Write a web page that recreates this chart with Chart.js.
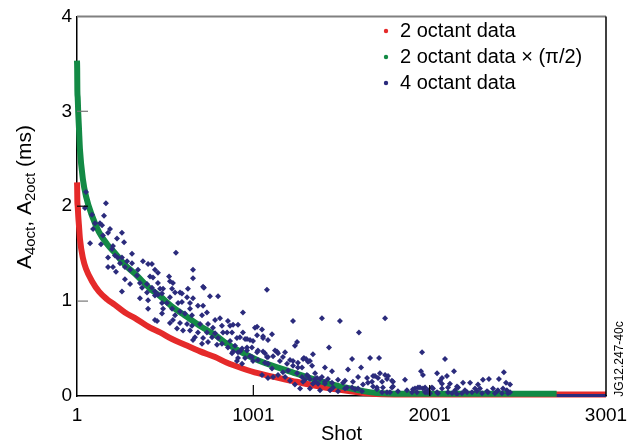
<!DOCTYPE html>
<html>
<head>
<meta charset="utf-8">
<script src="https://cdn.jsdelivr.net/npm/chart.js@4.4.1/dist/chart.umd.min.js"></script>
<style>
  html, body { margin: 0; padding: 0; background: #fff; }
  #chart { display: block; }
</style>
</head>
<body>
<canvas id="chart" width="636" height="448"></canvas>
<script>
// Eje X: número de disparo, eje Y: A (ms)
const xTicks = [1, 1001, 2001, 3001];
const yTicks = [0, 1, 2, 3, 4];

// 2 octant data (banda roja)
const redShots = [1, 2, 3, 5, 8, 12, 18, 35, 52, 86, 126, 171, 216, 273, 330, 415, 472, 540, 613, 699,
    784, 852, 940, 1027, 1220, 1407, 1595, 1700, 1850, 2721, 3001];
const redValues = [2.25, 2.2, 2.05, 2.0, 1.9, 1.8, 1.65, 1.45, 1.34, 1.21, 1.10, 1.02, 0.96, 0.88, 0.82, 0.72, 0.67, 0.60, 0.54, 0.47,
    0.41, 0.35, 0.29, 0.24, 0.16, 0.09, 0.04, 0.02, 0.015, 0.015, 0.015];

// la serie verde es la roja multiplicada por pi/2 (ver leyenda), hasta este disparo
const greenFactor = Math.PI / 2;
const greenLastShot = 2721;

// 4 octant data (rombos azul marino)
const navyShots = [
    52, 46, 165, 154, 103, 131, 188, 92, 86, 143,
    256, 177, 148, 228, 268, 75, 137, 205, 200, 562,
    313, 177, 216, 233, 256, 285, 375, 404, 426, 313,
    245, 177, 205, 273, 302, 222, 347, 443, 460, 341,
    415, 432, 523, 659, 659, 273, 545, 528, 398, 460,
    358, 302, 370, 721, 426, 472, 489, 630, 540, 256,
    443, 460, 585, 716, 755, 801, 358, 404, 398, 443,
    483, 528, 557, 596, 625, 659, 511, 483, 574, 642,
    596, 687, 716, 404, 489, 540, 642, 585, 483, 557,
    613, 653, 710, 738, 784, 812, 443, 455, 528, 545,
    585, 625, 653, 699, 744, 772, 823, 568, 602, 642,
    687, 738, 784, 829, 670, 716, 767, 801, 659, 710,
    744, 823, 795, 869, 857, 886, 914, 942, 925, 965,
    999, 1022, 1050, 1056, 1078, 1107, 886, 925, 965, 982,
    1022, 1056, 908, 937, 999, 1078, 1084, 1113, 1135, 1152,
    1181, 1192, 1226, 1249, 1226, 1254, 1283, 1322, 1339, 1277,
    1311, 1351, 1113, 1169, 1209, 1368, 869, 852, 880, 942,
    1010, 908, 954, 982, 1056, 1084, 1022, 1237, 1390, 1492,
    1600, 1430, 1288, 1407, 1447, 1561, 1663, 1612, 1538, 1595,
    1481, 1510, 1566, 1646, 1680, 1674, 897, 937, 965, 993,
    1027, 1067, 1084, 1124, 1141, 1169, 1209, 1226, 1254, 1277,
    1311, 1334, 1249, 1305, 1351, 1362, 1390, 1407, 1447, 1351,
    1294, 1181, 1141, 1198, 1107, 1067, 1027, 993, 954, 914,
    880, 857, 914, 1623, 1651, 1595, 1561, 1521, 1748, 1958,
    1714, 2088, 2139, 1952, 1963, 2043, 2099, 2071, 2060, 2116,
    2162, 2190, 2230, 2303, 2337, 2394, 2422, 2434, 2457, 2275,
    2286, 2360, 2388, 2417, 2439, 1691, 1708, 1748, 1765, 1793,
    1787, 1731, 1702, 1759, 1861, 1872, 1901, 1918, 1935, 1963,
    1975, 1992, 2020, 2003, 2048, 2071, 2105, 2145, 2184, 2201,
    2241, 2258, 2298, 2332, 2371, 2411, 2445, 2128, 2156, 1300,
    1719, 1759, 1787, 1521, 1424, 1379, 1322, 2156, 2105, 2071,
    2014, 1975, 1946, 1906, 1793, 1736, 1702, 1680, 1617, 1578,
    1532, 1453, 1407, 1339, 1283, 2457, 2383, 2326, 2269, 2213,
    2043, 1986, 1929, 1821, 1776, 1731, 1237, 1266, 1322, 1379,
    1436, 1481, 1084, 1050
];
const navyValues = [
    2.15, 1.98, 2.03, 1.90, 1.82, 1.82, 1.76, 1.76, 1.91, 1.80,
    1.72, 1.72, 1.69, 1.66, 1.62, 1.61, 1.60, 1.58, 1.55, 1.51,
    1.50, 1.46, 1.48, 1.46, 1.46, 1.42, 1.42, 1.39, 1.39, 1.40,
    1.40, 1.36, 1.36, 1.36, 1.33, 1.31, 1.33, 1.33, 1.30, 1.27,
    1.26, 1.25, 1.26, 1.33, 1.24, 1.23, 1.19, 1.21, 1.18, 1.19,
    1.19, 1.18, 1.14, 1.14, 1.14, 1.13, 1.13, 1.13, 1.13, 1.10,
    1.10, 1.07, 1.09, 1.15, 1.05, 1.05, 1.03, 1.01, 1.09, 1.06,
    1.08, 1.04, 1.09, 1.08, 1.04, 1.03, 0.98, 0.98, 0.98, 0.98,
    0.99, 0.95, 0.95, 0.92, 0.92, 0.92, 0.92, 0.89, 0.87, 0.85,
    0.87, 0.85, 0.85, 0.88, 0.80, 0.82, 0.80, 0.79, 0.77, 0.80,
    0.77, 0.76, 0.74, 0.76, 0.76, 0.72, 0.74, 0.71, 0.69, 0.69,
    0.67, 0.67, 0.66, 0.67, 0.62, 0.61, 0.62, 0.61, 0.59, 0.55,
    0.57, 0.55, 0.54, 0.58, 0.79, 0.75, 0.75, 0.88, 0.62, 0.60,
    0.58, 0.73, 0.70, 0.63, 1.12, 0.65, 0.47, 0.47, 0.51, 0.42,
    0.46, 0.47, 0.37, 0.34, 0.37, 0.41, 0.34, 0.42, 0.47, 0.37,
    0.46, 0.34, 0.79, 0.57, 0.37, 0.30, 0.39, 0.37, 0.44, 0.20,
    0.21, 0.18, 0.20, 0.25, 0.16, 0.13, 0.74, 0.67, 0.67, 0.67,
    0.72, 0.61, 0.60, 0.59, 0.61, 0.59, 0.64, 0.53, 0.82, 0.79,
    0.67, 0.51, 0.40, 0.30, 0.26, 0.39, 0.40, 0.30, 0.28, 0.20,
    0.17, 0.14, 0.15, 0.19, 0.21, 0.15, 0.53, 0.50, 0.48, 0.51,
    0.48, 0.45, 0.41, 0.48, 0.45, 0.41, 0.38, 0.32, 0.35, 0.30,
    0.36, 0.32, 0.24, 0.22, 0.24, 0.19, 0.20, 0.15, 0.14, 0.15,
    0.17, 0.20, 0.22, 0.27, 0.29, 0.35, 0.38, 0.41, 0.40, 0.40,
    0.45, 0.51, 0.46, 0.12, 0.14, 0.08, 0.09, 0.08, 0.82, 0.46,
    0.40, 0.39, 0.26, 0.26, 0.22, 0.24, 0.21, 0.19, 0.16, 0.13,
    0.09, 0.14, 0.14, 0.17, 0.18, 0.18, 0.25, 0.14, 0.12, 0.12,
    0.08, 0.08, 0.06, 0.08, 0.06, 0.21, 0.19, 0.22, 0.21, 0.15,
    0.09, 0.15, 0.09, 0.04, 0.17, 0.06, 0.04, 0.08, 0.09, 0.08,
    0.04, 0.06, 0.08, 0.03, 0.03, 0.08, 0.04, 0.06, 0.03, 0.06,
    0.04, 0.08, 0.03, 0.04, 0.03, 0.03, 0.03, 0.03, 0.02, 0.39,
    0.24, 0.18, 0.16, 0.16, 0.18, 0.18, 0.18, 0.10, 0.09, 0.13,
    0.09, 0.09, 0.09, 0.07, 0.10, 0.09, 0.07, 0.10, 0.05, 0.07,
    0.09, 0.09, 0.13, 0.13, 0.15, 0.04, 0.05, 0.05, 0.05, 0.04,
    0.04, 0.04, 0.04, 0.05, 0.04, 0.04, 0.12, 0.08, 0.08, 0.06,
    0.06, 0.05, 0.19, 0.22
];
// tramo plano de 4 octant data al final (pegado al eje)
const navyTailShots = [2721, 3001];
const navyTailValues = [0.005, 0.005];

const RED = '#e52a2a';
const GREEN = '#138a45';
const NAVY = '#2b2b7c';
const FONT = "'Liberation Sans', Arial, Helvetica, sans-serif";

const redPoints = redShots.map((s, i) => ({ x: s, y: redValues[i] }));
const greenPoints = redPoints.filter(p => p.x <= greenLastShot).map(p => ({ x: p.x, y: p.y * greenFactor }));
const navyPoints = navyShots.map((s, i) => ({ x: s, y: navyValues[i] }));
const navyTail = navyTailShots.map((s, i) => ({ x: s, y: navyTailValues[i] }));

// Bordes, marcas interiores, leyenda y títulos con subíndices
const extrasPlugin = {
    id: 'extras',
    afterDraw(chart) {
        const { ctx, chartArea: a, scales: { x, y } } = chart;
        ctx.save();

        // borde superior gris y derecho negro
        ctx.lineWidth = 2;
        ctx.strokeStyle = '#808080';
        ctx.beginPath(); ctx.moveTo(a.left, a.top); ctx.lineTo(a.right, a.top); ctx.stroke();
        ctx.lineWidth = 1.5;
        ctx.strokeStyle = '#000';
        ctx.beginPath(); ctx.moveTo(a.right, a.top); ctx.lineTo(a.right, a.bottom); ctx.stroke();

        // marcas hacia dentro
        ctx.lineWidth = 1.2;
        yTicks.slice(1, -1).forEach(v => {
            const py = y.getPixelForValue(v);
            ctx.strokeStyle = v === 2 ? '#000' : '#777';
            ctx.beginPath(); ctx.moveTo(a.left, py); ctx.lineTo(a.left + 11, py); ctx.stroke();
        });
        ctx.strokeStyle = '#000';
        xTicks.slice(1, -1).forEach(v => {
            const px = x.getPixelForValue(v);
            ctx.beginPath(); ctx.moveTo(px, a.bottom); ctx.lineTo(px, a.bottom - 11); ctx.stroke();
        });

        // leyenda (rojo, verde, azul)
        ctx.font = '20px ' + FONT;
        ctx.textBaseline = 'middle';
        ctx.textAlign = 'left';
        chart.data.datasets
            .filter(d => d.legendRank !== undefined)
            .sort((p, q) => p.legendRank - q.legendRank)
            .forEach((d, i) => {
                const rowY = 31 + i * 26;
                ctx.fillStyle = d.borderColor;
                ctx.beginPath(); ctx.arc(386, rowY, 2.2, 0, Math.PI * 2); ctx.fill();
                ctx.fillStyle = '#000';
                ctx.fillText(d.label, 400, rowY);
            });

        // título eje Y: A4oct, A2oct (ms)
        const parts = [
            { t: 'A', sub: false }, { t: '4oct', sub: true },
            { t: ', A', sub: false }, { t: '2oct', sub: true },
            { t: ' (ms)', sub: false }
        ];
        const mainFont = '21px ' + FONT, subFont = '15px ' + FONT;
        let total = 0;
        parts.forEach(p => { ctx.font = p.sub ? subFont : mainFont; p.w = ctx.measureText(p.t).width; total += p.w; });
        ctx.translate(31, 197);
        ctx.rotate(-Math.PI / 2);
        ctx.textBaseline = 'alphabetic';
        ctx.fillStyle = '#000';
        let cx = -total / 2;
        parts.forEach(p => {
            ctx.font = p.sub ? subFont : mainFont;
            ctx.fillText(p.t, cx, p.sub ? 4 : 0);
            cx += p.w;
        });
        ctx.restore();

        // código de figura en el margen derecho
        ctx.save();
        ctx.translate(620, 359);
        ctx.rotate(-Math.PI / 2);
        ctx.font = '12px ' + FONT;
        ctx.fillStyle = '#000';
        ctx.textAlign = 'center';
        ctx.textBaseline = 'middle';
        ctx.fillText('JG12.247-40c', 0, 0);
        ctx.restore();
    }
};

new Chart(document.getElementById('chart').getContext('2d'), {
    type: 'scatter',
    data: {
        datasets: [
            {
                label: '4 octant data', legendRank: 2, data: navyPoints, order: 0,
                backgroundColor: NAVY, borderColor: NAVY, pointStyle: 'rectRot',
                pointRadius: 3, pointBorderWidth: 0
            },
            {
                label: '4 octant data (tail)', data: navyTail, order: 0, showLine: true,
                borderColor: NAVY, backgroundColor: NAVY, borderWidth: 3, pointRadius: 0, clip: 4
            },
            {
                label: '2 octant data \u00d7 (\u03c0/2)', legendRank: 1, data: greenPoints, order: 1,
                showLine: true, borderColor: GREEN, backgroundColor: GREEN, borderWidth: 6,
                pointRadius: 0, cubicInterpolationMode: 'monotone', clip: 4
            },
            {
                label: '2 octant data', legendRank: 0, data: redPoints, order: 2,
                showLine: true, borderColor: RED, backgroundColor: RED, borderWidth: 6,
                pointRadius: 0, cubicInterpolationMode: 'monotone', clip: 4
            }
        ]
    },
    options: {
        responsive: false,
        animation: false,
        layout: { padding: { top: 14, right: 30, left: 0, bottom: 0 } },
        plugins: {
            legend: { display: false },
            tooltip: { enabled: false }
        },
        scales: {
            x: {
                type: 'linear', min: 1, max: 3001,
                afterBuildTicks: s => { s.ticks = xTicks.map(v => ({ value: v })); },
                afterFit: s => { s.height = 52; },
                grid: { display: false, drawTicks: false },
                border: { display: true, color: '#000', width: 1.5 },
                ticks: {
                    color: '#000', font: { family: FONT, size: 19 }, padding: 8,
                    maxRotation: 0, autoSkip: false, callback: v => String(v)
                },
                title: { display: true, text: 'Shot', color: '#000', font: { family: FONT, size: 20 }, padding: { top: 0, bottom: 2 } }
            },
            y: {
                type: 'linear', min: 0, max: 4,
                afterBuildTicks: s => { s.ticks = yTicks.map(v => ({ value: v })); },
                afterFit: s => { s.width = 77; },
                grid: { display: false, drawTicks: false },
                border: { display: true, color: '#000', width: 1.5 },
                ticks: { color: '#000', font: { family: FONT, size: 19 }, padding: 5, callback: v => String(v) }
            }
        }
    },
    plugins: [extrasPlugin]
});
</script>
</body>
</html>
